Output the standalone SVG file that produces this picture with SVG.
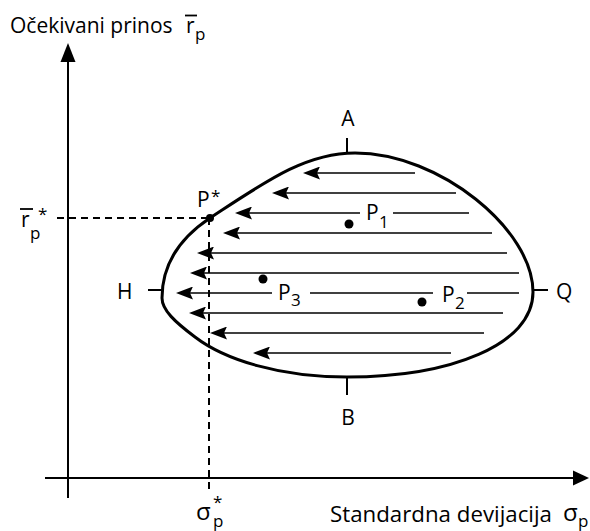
<svg xmlns="http://www.w3.org/2000/svg" width="590" height="531" viewBox="0 0 590 531">
<style>
text{font-family:"Open Sans","Noto Sans","Liberation Sans",sans-serif;font-size:21px;fill:#000}
.sub{font-size:17px}
.big{font-size:24px}
.ax{stroke:#000;stroke-width:2;fill:none}
.dash{stroke:#000;stroke-width:2;stroke-dasharray:7 5;fill:none}
.arr{stroke:#000;stroke-width:1.6;fill:none}
.tick{stroke:#000;stroke-width:2;fill:none}
</style>
<defs>
<marker id="ah" markerUnits="userSpaceOnUse" viewBox="0 0 17 13" refX="13" refY="6.5" markerWidth="17" markerHeight="13" orient="auto-start-reverse">
<path d="M0,0 L17,6.5 L0,13 L3,6.5 Z" fill="#000"/>
</marker>
</defs>
<rect width="590" height="531" fill="#fff"/>
<g id="axes">
<line class="ax" x1="68" y1="498" x2="68" y2="60"/>
<path d="M68,43 L75.5,62 L60.5,62 Z" fill="#000"/>
<line class="ax" x1="45" y1="478" x2="574" y2="478"/>
<path d="M589,478 L573,470.5 L573,485.5 Z" fill="#000"/>
<text x="10" y="33">Očekivani prinos</text>
<text x="186" y="33">r</text>
<line x1="185" y1="15.5" x2="197" y2="15.5" stroke="#000" stroke-width="1.8"/>
<text class="sub" x="195" y="40">p</text>
<text x="330" y="522" textLength="222" lengthAdjust="spacingAndGlyphs">Standardna devijacija</text>
<text class="big" x="563" y="521">σ</text>
<text class="sub" x="578" y="527">p</text>
</g>
<g id="region">
<path d="M355,153 C440,153 533,230 533,292 C533,345 450,377 347,377 C280,377 225,360 195,337 C175,322 162,310 162,298 C162,265 180,238 210,218 C265,182 305,153 355,153 Z" fill="none" stroke="#000" stroke-width="3"/>
</g>
<g id="connectors">
<line class="arr" marker-start="url(#ah)" x1="307" y1="173" x2="415" y2="173"/>
<line class="arr" marker-start="url(#ah)" x1="276" y1="193" x2="456" y2="193"/>
<line class="arr" marker-start="url(#ah)" x1="239" y1="213" x2="360" y2="213"/>
<line class="arr" x1="393" y1="213" x2="469" y2="213"/>
<line class="arr" marker-start="url(#ah)" x1="227" y1="233" x2="492" y2="233"/>
<line class="arr" marker-start="url(#ah)" x1="201" y1="253" x2="507" y2="253"/>
<line class="arr" marker-start="url(#ah)" x1="194" y1="273" x2="519" y2="273"/>
<line class="arr" marker-start="url(#ah)" x1="180" y1="293" x2="272" y2="293"/>
<line class="arr" x1="310" y1="293" x2="433" y2="293"/>
<line class="arr" x1="467" y1="293" x2="519" y2="293"/>
<line class="arr" marker-start="url(#ah)" x1="193" y1="313" x2="503" y2="313"/>
<line class="arr" marker-start="url(#ah)" x1="214" y1="333" x2="484" y2="333"/>
<line class="arr" marker-start="url(#ah)" x1="257" y1="353" x2="451" y2="353"/>
<line class="dash" x1="57" y1="218" x2="210" y2="218"/>
<line class="dash" x1="209" y1="218" x2="209" y2="490"/>
</g>
<g id="node-A">
<line class="tick" x1="347" y1="138" x2="347" y2="154"/>
<text x="348" y="126" text-anchor="middle">A</text>
</g>
<g id="node-B">
<line class="tick" x1="347" y1="376" x2="347" y2="395"/>
<text x="348" y="425" text-anchor="middle">B</text>
</g>
<g id="node-H">
<line class="tick" x1="148" y1="290" x2="163" y2="290"/>
<text x="117" y="299">H</text>
</g>
<g id="node-Q">
<line class="tick" x1="533" y1="290" x2="548" y2="290"/>
<text x="556" y="299">Q</text>
</g>
<g id="node-Pstar">
<circle cx="210" cy="218" r="4"/>
<text x="197" y="207">P</text>
<text class="sub" x="211" y="202">*</text>
</g>
<g id="node-P1">
<circle cx="349" cy="224" r="4.5"/>
<text x="366" y="220">P</text>
<text class="sub" x="379" y="228">1</text>
</g>
<g id="node-P2">
<circle cx="422" cy="302" r="4.5"/>
<text x="442" y="302">P</text>
<text class="sub" x="455" y="309">2</text>
</g>
<g id="node-P3">
<circle cx="263" cy="279" r="4.5"/>
<text x="278" y="300">P</text>
<text class="sub" x="291" y="306">3</text>
</g>
<g id="node-rstar">
<text x="21" y="227">r</text>
<line x1="20" y1="209" x2="33" y2="209" stroke="#000" stroke-width="1.8"/>
<text class="sub" x="30" y="239">p</text>
<text class="sub" x="38" y="220">*</text>
</g>
<g id="node-sigmastar">
<text class="big" x="196" y="520">σ</text>
<text class="sub" x="213" y="508">*</text>
<text class="sub" x="213" y="527">p</text>
</g>
</svg>
